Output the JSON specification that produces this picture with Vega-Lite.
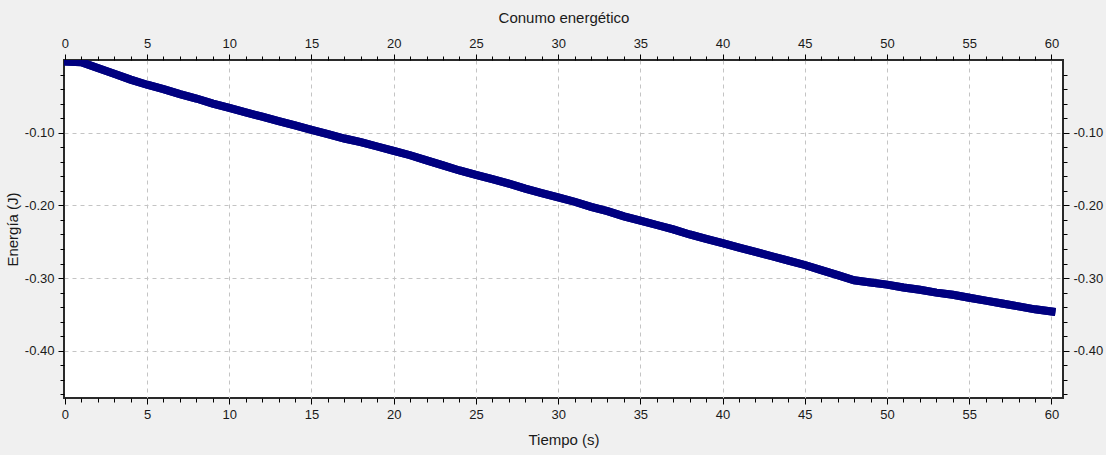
{
  "$schema": "https://vega.github.io/schema/vega-lite/v6.json",
  "autosize": "none",
  "width": 999,
  "height": 338,
  "padding": {"left": 64, "top": 60, "right": 43, "bottom": 57},
  "background": "#f0f0f0",
  "view": {"stroke": "#2a2a2a", "strokeWidth": 2, "fill": "white"},
  "config": {
    "axis": {
      "labelFont": "Liberation Sans",
      "labelFontSize": 13,
      "labelColor": "#1a1a1a",
      "titleFont": "Liberation Sans",
      "titleFontSize": 15,
      "titleFontWeight": "normal",
      "titleColor": "#1a1a1a",
      "tickColor": "#000000",
      "domain": false,
      "labelOverlap": false,
      "labelBound": false,
      "labelFlush": false
    }
  },
  "data": {
    "values": [
      {"t": 0, "e": -0.002}, {"t": 1, "e": -0.003}, {"t": 2, "e": -0.011}, {"t": 3, "e": -0.019},
      {"t": 4, "e": -0.027}, {"t": 5, "e": -0.034}, {"t": 6, "e": -0.040}, {"t": 7, "e": -0.047},
      {"t": 8, "e": -0.053}, {"t": 9, "e": -0.060}, {"t": 10, "e": -0.066}, {"t": 11, "e": -0.072},
      {"t": 12, "e": -0.078}, {"t": 13, "e": -0.084}, {"t": 14, "e": -0.090}, {"t": 15, "e": -0.096},
      {"t": 16, "e": -0.102}, {"t": 17, "e": -0.108}, {"t": 18, "e": -0.113}, {"t": 19, "e": -0.119},
      {"t": 20, "e": -0.125}, {"t": 21, "e": -0.131}, {"t": 22, "e": -0.138}, {"t": 23, "e": -0.145},
      {"t": 24, "e": -0.152}, {"t": 25, "e": -0.158}, {"t": 26, "e": -0.164}, {"t": 27, "e": -0.170},
      {"t": 28, "e": -0.177}, {"t": 29, "e": -0.183}, {"t": 30, "e": -0.189}, {"t": 31, "e": -0.195},
      {"t": 32, "e": -0.202}, {"t": 33, "e": -0.208}, {"t": 34, "e": -0.215}, {"t": 35, "e": -0.221},
      {"t": 36, "e": -0.227}, {"t": 37, "e": -0.233}, {"t": 38, "e": -0.240}, {"t": 39, "e": -0.246},
      {"t": 40, "e": -0.252}, {"t": 41, "e": -0.258}, {"t": 42, "e": -0.264}, {"t": 43, "e": -0.270},
      {"t": 44, "e": -0.276}, {"t": 45, "e": -0.282}, {"t": 46, "e": -0.289}, {"t": 47, "e": -0.296},
      {"t": 48, "e": -0.303}, {"t": 49, "e": -0.306}, {"t": 50, "e": -0.309}, {"t": 51, "e": -0.313},
      {"t": 52, "e": -0.316}, {"t": 53, "e": -0.320}, {"t": 54, "e": -0.323}, {"t": 55, "e": -0.327},
      {"t": 56, "e": -0.331}, {"t": 57, "e": -0.335}, {"t": 58, "e": -0.339}, {"t": 59, "e": -0.343},
      {"t": 60, "e": -0.346}
    ]
  },
  "resolve": {"axis": {"x": "independent", "y": "independent"}},
  "layer": [
    {
      "mark": {"type": "line", "color": "#000080", "strokeWidth": 8, "strokeCap": "square", "clip": true},
      "encoding": {
        "x": {
          "field": "t", "type": "quantitative",
          "scale": {"domain": [-0.05, 60.7], "nice": false, "zero": false},
          "axis": {
            "orient": "bottom",
            "title": "Tiempo (s)",
            "titlePadding": 11,
            "values": [0,1,2,3,4,5,6,7,8,9,10,11,12,13,14,15,16,17,18,19,20,21,22,23,24,25,26,27,28,29,30,31,32,33,34,35,36,37,38,39,40,41,42,43,44,45,46,47,48,49,50,51,52,53,54,55,56,57,58,59,60],
            "labelExpr": "datum.value % 5 === 0 ? datum.label : ''",
            "tickSize": {"condition": {"test": "datum.value % 5 === 0", "value": 6}, "value": 4},
            "labelPadding": 4,
            "grid": true,
            "gridColor": "#c4c4c4",
            "gridDash": [4, 4],
            "gridOpacity": {"condition": {"test": "datum.value % 5 === 0 && datum.value > 0", "value": 1}, "value": 0}
          }
        },
        "y": {
          "field": "e", "type": "quantitative",
          "scale": {"domain": [-0.465, 0], "nice": false, "zero": false},
          "axis": {
            "orient": "left",
            "title": "Energía (J)",
            "titlePadding": 4,
            "values": [-0.46,-0.44,-0.42,-0.4,-0.38,-0.36,-0.34,-0.32,-0.3,-0.28,-0.26,-0.24,-0.22,-0.2,-0.18,-0.16,-0.14,-0.12,-0.1,-0.08,-0.06,-0.04,-0.02],
            "format": ".2f",
            "labelExpr": "abs(round(datum.value*100)) % 10 === 0 ? replace(datum.label, '\u2212', '-') : ''",
            "tickSize": {"condition": {"test": "abs(round(datum.value*100)) % 10 === 0", "value": 6}, "value": 4},
            "labelPadding": 4,
            "grid": true,
            "gridColor": "#c4c4c4",
            "gridDash": [4, 4],
            "gridOpacity": {"condition": {"test": "abs(round(datum.value*100)) % 10 === 0", "value": 1}, "value": 0}
          }
        }
      }
    },
    {
      "mark": {"type": "line", "color": "#000080", "strokeWidth": 8, "strokeCap": "square", "clip": true},
      "encoding": {
        "x": {
          "field": "t", "type": "quantitative",
          "axis": {
            "orient": "top",
            "title": "Conumo energético",
            "titlePadding": 12,
            "values": [0,1,2,3,4,5,6,7,8,9,10,11,12,13,14,15,16,17,18,19,20,21,22,23,24,25,26,27,28,29,30,31,32,33,34,35,36,37,38,39,40,41,42,43,44,45,46,47,48,49,50,51,52,53,54,55,56,57,58,59,60],
            "labelExpr": "datum.value % 5 === 0 ? datum.label : ''",
            "tickSize": {"condition": {"test": "datum.value % 5 === 0", "value": 6}, "value": 4},
            "labelPadding": 4,
            "grid": false
          }
        },
        "y": {
          "field": "e", "type": "quantitative",
          "axis": {
            "orient": "right",
            "title": null,
            "values": [-0.46,-0.44,-0.42,-0.4,-0.38,-0.36,-0.34,-0.32,-0.3,-0.28,-0.26,-0.24,-0.22,-0.2,-0.18,-0.16,-0.14,-0.12,-0.1,-0.08,-0.06,-0.04,-0.02],
            "format": ".2f",
            "labelExpr": "abs(round(datum.value*100)) % 10 === 0 ? replace(datum.label, '\u2212', '-') : ''",
            "tickSize": {"condition": {"test": "abs(round(datum.value*100)) % 10 === 0", "value": 6}, "value": 4},
            "labelPadding": 4,
            "grid": false
          }
        }
      }
    }
  ]
}
